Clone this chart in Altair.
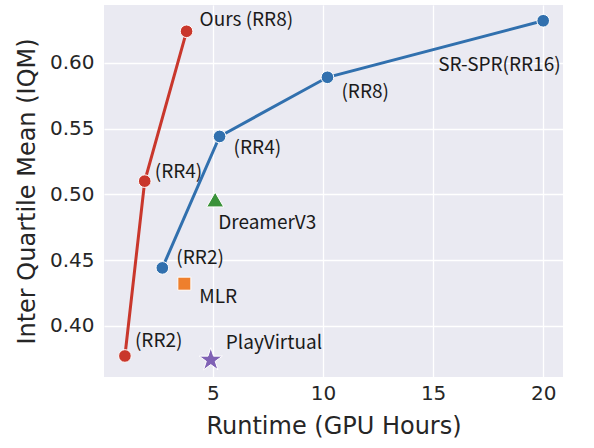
import altair as alt
import pandas as pd

# Data
ours_x = [1.0, 1.9, 3.8]
ours_y = [0.377, 0.510, 0.624]
sr_x = [2.7, 5.3, 10.2, 20.0]
sr_y = [0.444, 0.544, 0.589, 0.632]
other_names = ["DreamerV3", "MLR", "PlayVirtual"]
other_x = [5.1, 3.7, 4.9]
other_y = [0.496, 0.432, 0.374]
x_ticks = [5, 10, 15, 20]
y_ticks = [0.40, 0.45, 0.50, 0.55, 0.60]

AXFONT = "DejaVu Sans"
FONT = "Noto Sans CJK KR"
RED = "#c9372c"
BLUE = "#3170ae"
GREEN = "#3a923a"
ORANGE = "#ee7f2d"
PURPLE = "#8062b5"

ours = pd.DataFrame({"x": ours_x, "y": ours_y})
sr = pd.DataFrame({"x": sr_x, "y": sr_y})
others = pd.DataFrame({"name": other_names, "x": other_x, "y": other_y})

xs = alt.Scale(domain=[0.05, 20.9], nice=False, zero=False)
ys = alt.Scale(domain=[0.361, 0.644], nice=False, zero=False)

common = dict(grid=True, gridColor="white", gridWidth=1.3, domain=False, ticks=False,
              labelFont=AXFONT, titleFont=AXFONT,
              labelFontSize=20, labelColor="#262626",
              titleFontSize=24, titleColor="#262626",
              titleFontWeight="normal", labelFontWeight="normal")

X = alt.X("x:Q", scale=xs, title="Runtime (GPU Hours)",
          axis=alt.Axis(values=x_ticks, format="d", labelPadding=6, titlePadding=11, **common))
Y = alt.Y("y:Q", scale=ys, title="Inter Quartile Mean (IQM)",
          axis=alt.Axis(values=y_ticks, format=".2f", labelPadding=10, titlePadding=10, **common))

def line_pts(df, color):
    base = alt.Chart(df).encode(x=X, y=Y)
    ln = base.mark_line(color=color, strokeWidth=3)
    pt = base.mark_point(filled=True, shape="circle", size=160, color=color,
                         stroke="white", strokeWidth=1, opacity=1)
    return ln + pt

def single(df_row, shape, color, size):
    return alt.Chart(df_row).mark_point(filled=True, shape=shape, size=size,
                                        color=color, stroke="white",
                                        strokeWidth=1, opacity=1).encode(x=X, y=Y)

def label(xv, yv, text, dx, dy):
    df = pd.DataFrame({"x": [xv], "y": [yv], "t": [text]})
    return alt.Chart(df).mark_text(align="left", baseline="middle", dx=dx, dy=dy,
                                   font=FONT, fontSize=19, color="#1a1a1a").encode(
        x=X, y=Y, text="t:N")

STAR = "M0,-1L0.2245,-0.309L0.951,-0.309L0.3633,0.118L0.5878,0.809L0,0.382L-0.5878,0.809L-0.3633,0.118L-0.951,-0.309L-0.2245,-0.309Z"

layers = [
    line_pts(ours, RED),
    line_pts(sr, BLUE),
    single(others.iloc[[0]], "triangle-up", GREEN, 290),
    single(others.iloc[[1]], "square", ORANGE, 170),
    single(others.iloc[[2]], STAR, PURPLE, 600),
    label(ours_x[2], ours_y[2], "Ours (RR8)", 13, -11),
    label(ours_x[1], ours_y[1], "(RR4)", 10, -9),
    label(ours_x[0], ours_y[0], "(RR2)", 10, -15),
    label(sr_x[0], sr_y[0], "(RR2)", 14, -10),
    label(sr_x[1], sr_y[1], "(RR4)", 14, 12),
    label(sr_x[2], sr_y[2], "(RR8)", 14, 15),
    label(sr_x[3], sr_y[3], "SR-SPR(RR16)", -105, 44),
    label(other_x[0], other_y[0], "DreamerV3", 3, 23),
    label(other_x[1], other_y[1], "MLR", 15, 13),
    label(other_x[2], other_y[2], "PlayVirtual", 15, -17),
]

chart = alt.layer(*layers).properties(
    width=459, height=372,
    autosize=alt.AutoSizeParams(type="none"),
    padding={"left": 104, "top": 5, "right": 31, "bottom": 71},
    background="white",
).configure_view(
    fill="#eaeaf2", stroke=None
)

chart.save("out.html", embed_options={"renderer": "svg", "actions": False})
